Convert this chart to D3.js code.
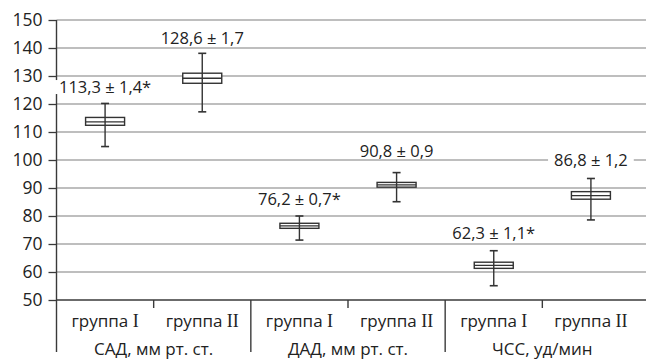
<!DOCTYPE html>
<html><head><meta charset="utf-8">
<script src="https://cdn.jsdelivr.net/npm/d3@7"></script>
<style>
html,body{margin:0;padding:0;background:#fff;}
svg{display:block;font-family:"Open Sans",sans-serif;}
</style></head>
<body>
<svg id="chart" width="646" height="359"></svg>
<script>
const categories = ["САД, мм рт. ст.", "ДАД, мм рт. ст.", "ЧСС, уд/мин"];
const groups = ["группа", "группа"];
const numerals = ["I", "II"];
// box values per category, per group: [min, q1, middle, q3, max]
const groupIValues = [
  [104.8, 112.4, 113.6, 115.2, 120.2],
  [71.4, 75.6, 76.5, 77.4, 80.0],
  [55.1, 61.3, 62.4, 63.5, 67.6]
];
const groupIIValues = [
  [117.2, 127.4, 129.2, 131.0, 138.1],
  [85.1, 90.3, 91.1, 92.0, 95.5],
  [78.6, 86.0, 87.3, 88.7, 93.4]
];
const groupILabels = ["113,3 ± 1,4*", "76,2 ± 0,7*", "62,3 ± 1,1*"];
const groupIILabels = ["128,6 ± 1,7", "90,8 ± 0,9", "86,8 ± 1,2"];
const yTicks = [50, 60, 70, 80, 90, 100, 110, 120, 130, 140, 150];

// layout: gap (px) between whisker top and label baseline
const labelGapI = [10.4, 11, 11.7];
const labelGapII = [9.8, 16, 12];

const svg = d3.select("#chart");
const W = 646;
const pLeft = 56.5, pRight = 639.5, pTop = 20, pBase = 300;
const y = d3.scaleLinear().domain([50, 150]).range([pBase, pTop]);
const x = d3.scaleBand().domain(categories).range([pLeft, pRight]);
const xs = d3.scaleBand().domain([0, 1]).range([0, x.bandwidth()]);

// gridlines
svg.append("g").selectAll("line").data(yTicks.filter(t => t > 50)).join("line")
  .attr("x1", pLeft).attr("x2", W)
  .attr("y1", d => y(d)).attr("y2", d => y(d))
  .attr("stroke", "#a8a8a8").attr("stroke-width", 1.4);

// y axis
const yAxis = d3.axisLeft(y).tickValues(yTicks).tickSize(8).tickPadding(6).tickFormat(d3.format("d"));
const ya = svg.append("g").attr("transform", `translate(${pLeft},0)`).call(yAxis);
ya.select(".domain").remove();
ya.selectAll(".tick line").attr("stroke", "#3a3a3a").attr("stroke-width", 1.3);
ya.selectAll(".tick text").attr("font-size", 17.5).attr("fill", "#222").attr("font-family", "Open Sans");
svg.append("line").attr("x1", pLeft).attr("x2", pLeft).attr("y1", pTop).attr("y2", 352)
  .attr("stroke", "#3a3a3a").attr("stroke-width", 1.4);

// baseline
svg.append("line").attr("x1", pLeft).attr("x2", W).attr("y1", pBase).attr("y2", pBase)
  .attr("stroke", "#3a3a3a").attr("stroke-width", 1.4);

// category separators and mid ticks
categories.forEach((c, i) => {
  if (i > 0) {
    svg.append("line").attr("x1", x(c)).attr("x2", x(c)).attr("y1", pBase).attr("y2", 352)
      .attr("stroke", "#3a3a3a").attr("stroke-width", 1.4);
  }
  const mx = x(c) + xs(1);
  svg.append("line").attr("x1", mx).attr("x2", mx).attr("y1", pBase).attr("y2", 308)
    .attr("stroke", "#3a3a3a").attr("stroke-width", 1.4);
  svg.append("text").attr("x", x(c) + x.bandwidth() / 2).attr("y", 355)
    .attr("text-anchor", "middle").attr("font-size", 17).attr("fill", "#222").text(c);
  [0, 1].forEach(g => {
    const t = svg.append("text").attr("x", x(c) + xs(g) + xs.bandwidth() / 2).attr("y", 327)
      .attr("text-anchor", "middle").attr("font-size", 17).attr("fill", "#222");
    t.append("tspan").text(groups[g] + " ");
    t.append("tspan").attr("font-family", "Liberation Serif").attr("font-size", 18).text(numerals[g]);
  });
});

// boxes
const boxW = 39, capW = 8;
function drawBox(cx, v, label, gap) {
  const g = svg.append("g");
  const [mn, q1, md, q3, mx] = v;
  g.append("line").attr("x1", cx).attr("x2", cx).attr("y1", y(mx)).attr("y2", y(mn))
    .attr("stroke", "#333").attr("stroke-width", 1.4);
  g.append("line").attr("x1", cx - capW / 2).attr("x2", cx + capW / 2).attr("y1", y(mx)).attr("y2", y(mx))
    .attr("stroke", "#333").attr("stroke-width", 1.6);
  g.append("line").attr("x1", cx - capW / 2).attr("x2", cx + capW / 2).attr("y1", y(mn)).attr("y2", y(mn))
    .attr("stroke", "#333").attr("stroke-width", 1.6);
  g.append("rect").attr("x", cx - boxW / 2).attr("width", boxW)
    .attr("y", y(q3)).attr("height", y(q1) - y(q3))
    .attr("fill", "#fff").attr("stroke", "#333").attr("stroke-width", 1.4);
  g.append("line").attr("x1", cx - boxW / 2).attr("x2", cx + boxW / 2).attr("y1", y(md)).attr("y2", y(md))
    .attr("stroke", "#333").attr("stroke-width", 1.3);
  g.append("line").attr("x1", cx).attr("x2", cx).attr("y1", y(q3)).attr("y2", y(q1))
    .attr("stroke", "#333").attr("stroke-width", 1.4);
  const ly = y(mx) - gap;
  const txt = svg.append("text").attr("x", cx).attr("y", ly).attr("text-anchor", "middle")
    .attr("font-size", 16.5).attr("fill", "#222").text(label);
  const bb = txt.node().getBBox();
  svg.insert("rect", () => txt.node()).attr("x", bb.x - 6).attr("y", ly - 13).attr("width", bb.width + 12)
    .attr("height", 14).attr("fill", "#fff");
}
categories.forEach((c, i) => {
  drawBox(x(c) + xs(0) + xs.bandwidth() / 2, groupIValues[i], groupILabels[i], labelGapI[i]);
  drawBox(x(c) + xs(1) + xs.bandwidth() / 2, groupIIValues[i], groupIILabels[i], labelGapII[i]);
});
</script>
</body></html>
